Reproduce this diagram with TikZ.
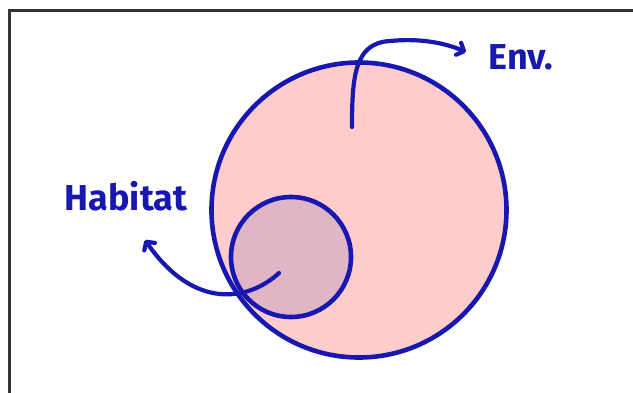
\documentclass[tikz,border=0pt]{standalone}
\usepackage{fontspec}
\setmainfont{Fira Sans}
\usetikzlibrary{arrows.meta}
\definecolor{ink}{HTML}{1818B0}
\definecolor{envfill}{HTML}{FFCCCC}
\definecolor{habfill}{HTML}{E0B6C6}
\definecolor{framec}{HTML}{333333}
\tikzset{
  region/.style={circle, draw=ink, line width=4.6pt, inner sep=0pt},
  handtext/.style={text=ink, font=\fontsize{36}{40}\selectfont\bfseries, inner sep=0pt},
  pointer/.style={draw=ink, line width=4.2pt, line cap=round, -{Straight Barb[length=6pt,width=13pt,line join=round,line cap=round]}}
}
\begin{document}
\begin{tikzpicture}[x=1pt,y=-1pt]
\useasboundingbox (0,0) rectangle (633,393);
\draw[framec, line width=3pt] (9,400) -- (9,11) -- (640,11);
\node[region, fill=envfill, minimum size=295pt] (env) at (359,210) {};
\node[region, fill=habfill, minimum size=120pt] (hab) at (291,257) {};
\node[handtext, anchor=base] (envt) at (521,70) {Env.};
\node[handtext, anchor=base] (habt) at (126,211) {Habitat};
\coordinate (envs) at (352,127);
\coordinate (envm) at (390,41);
\coordinate (envtip) at (466,52);
\coordinate (habs) at (279,273);
\coordinate (habtip) at (145,240);
\draw[pointer] (envs) .. controls (352,75) and (355,43) .. (envm) .. controls (420,38) and (445,43) .. (envtip);
\draw[pointer] (habs) .. controls (250,300) and (195,312) .. (habtip);
\end{tikzpicture}
\end{document}
